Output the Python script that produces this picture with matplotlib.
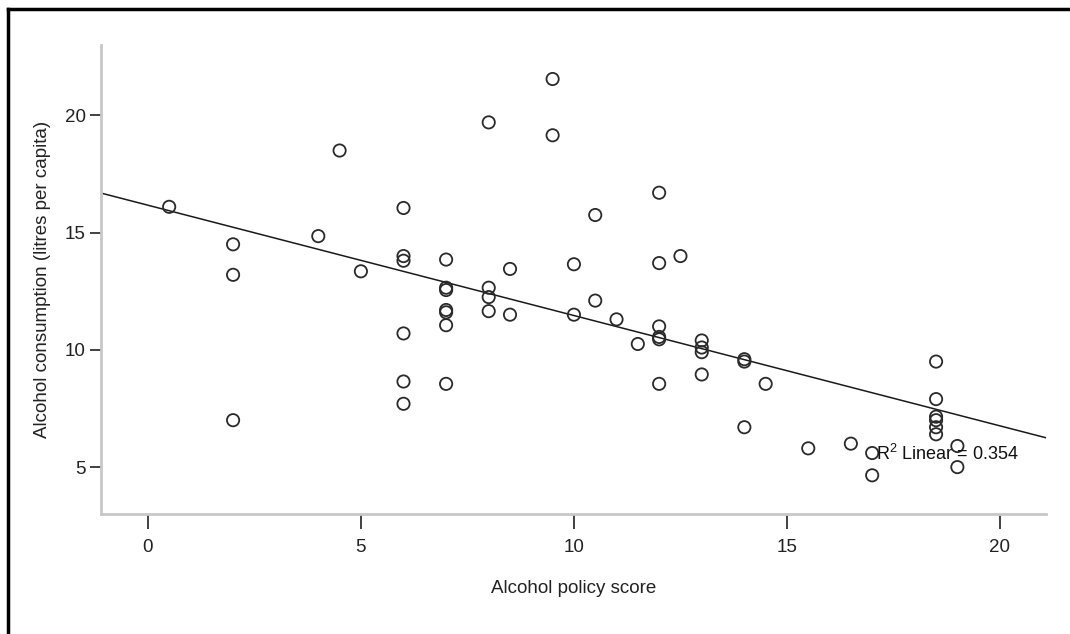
import numpy as np
import matplotlib
matplotlib.use("Agg")
import matplotlib.pyplot as plt
from matplotlib.lines import Line2D

policy_score = [0.5,
                2, 2, 2,
                4, 4.5, 5,
                6, 6, 6, 6, 6, 6,
                7, 7, 7, 7, 7, 7, 7,
                8, 8, 8, 8,
                8.5, 8.5,
                9.5, 9.5,
                10, 10,
                10.5, 10.5,
                11, 11.5,
                12, 12, 12, 12, 12, 12,
                12.5,
                13, 13, 13, 13,
                14, 14, 14,
                14.5, 15.5, 16.5,
                17, 17,
                18.5, 18.5, 18.5, 18.5, 18.5, 18.5,
                19, 19]
consumption = [16.1,
               14.5, 13.2, 7.0,
               14.85, 18.5, 13.35,
               16.05, 14.0, 13.8, 10.7, 8.65, 7.7,
               13.85, 12.65, 12.55, 11.7, 11.6, 11.05, 8.55,
               19.7, 12.65, 12.25, 11.65,
               13.45, 11.5,
               21.55, 19.15,
               13.65, 11.5,
               15.75, 12.1,
               11.3, 10.25,
               16.7, 13.7, 11.0, 10.55, 10.45, 8.55,
               14.0,
               10.4, 10.1, 9.9, 8.95,
               9.6, 9.5, 6.7,
               8.55, 5.8, 6.0,
               5.6, 4.65,
               9.5, 7.9, 7.15, 7.0, 6.7, 6.4,
               5.9, 5.0]
x_ticks = [0, 5, 10, 15, 20]
y_ticks = [5, 10, 15, 20]
r2_label = "R$^2$ Linear = 0.354"
x_label = "Alcohol policy score"
y_label = "Alcohol consumption (litres per capita)"

plt.rcParams['font.family'] = ['Liberation Sans', 'DejaVu Sans']
plt.rcParams['mathtext.fontset'] = 'custom'
plt.rcParams['mathtext.rm'] = 'Liberation Sans'

fig = plt.figure(figsize=(10.7, 6.34), dpi=100)
ax = fig.add_axes([101/1070, 1-514/634, (1046-101)/1070, (514-45)/634])

x = np.array(policy_score)
y = np.array(consumption)
slope, intercept = np.polyfit(x, y, 1)
xlim = (-1.10, 21.08)
ylim = (3.0, 23.0)
xx = np.array(xlim)
ax.plot(xx, intercept + slope * xx, color='#1a1a1a', lw=1.1, zorder=2)
ax.scatter(x, y, s=78, facecolors='none', edgecolors='#2a2a2a', linewidths=1.3, zorder=3)

ax.text(17.1, 5.55, r2_label, fontsize=13, va='center', ha='left', color='#111111', zorder=4)

ax.set_xlim(*xlim)
ax.set_ylim(*ylim)
ax.set_xticks(x_ticks)
ax.set_yticks(y_ticks)
for s in ['top', 'right']:
    ax.spines[s].set_visible(False)
for s in ['left', 'bottom']:
    ax.spines[s].set_color('#c8c8c8')
    ax.spines[s].set_linewidth(2)
ax.tick_params(direction='out', width=1.3, color='#333333', labelsize=13.5,
               labelcolor='#222222')
ax.tick_params(axis='x', length=11, pad=7)
ax.tick_params(axis='y', length=8, pad=3)
ax.set_xlabel(x_label, fontsize=13.5, color='#222222', labelpad=17)
ax.set_ylabel(y_label, fontsize=13.5, color='#222222', labelpad=10)

fig.add_artist(Line2D([8/1070, 1], [1-9/634, 1-9/634], color='black', lw=2.5, transform=fig.transFigure))
fig.add_artist(Line2D([8/1070, 8/1070], [0, 1-9/634], color='black', lw=2.5, transform=fig.transFigure))

fig.savefig("out.png", dpi=100)
